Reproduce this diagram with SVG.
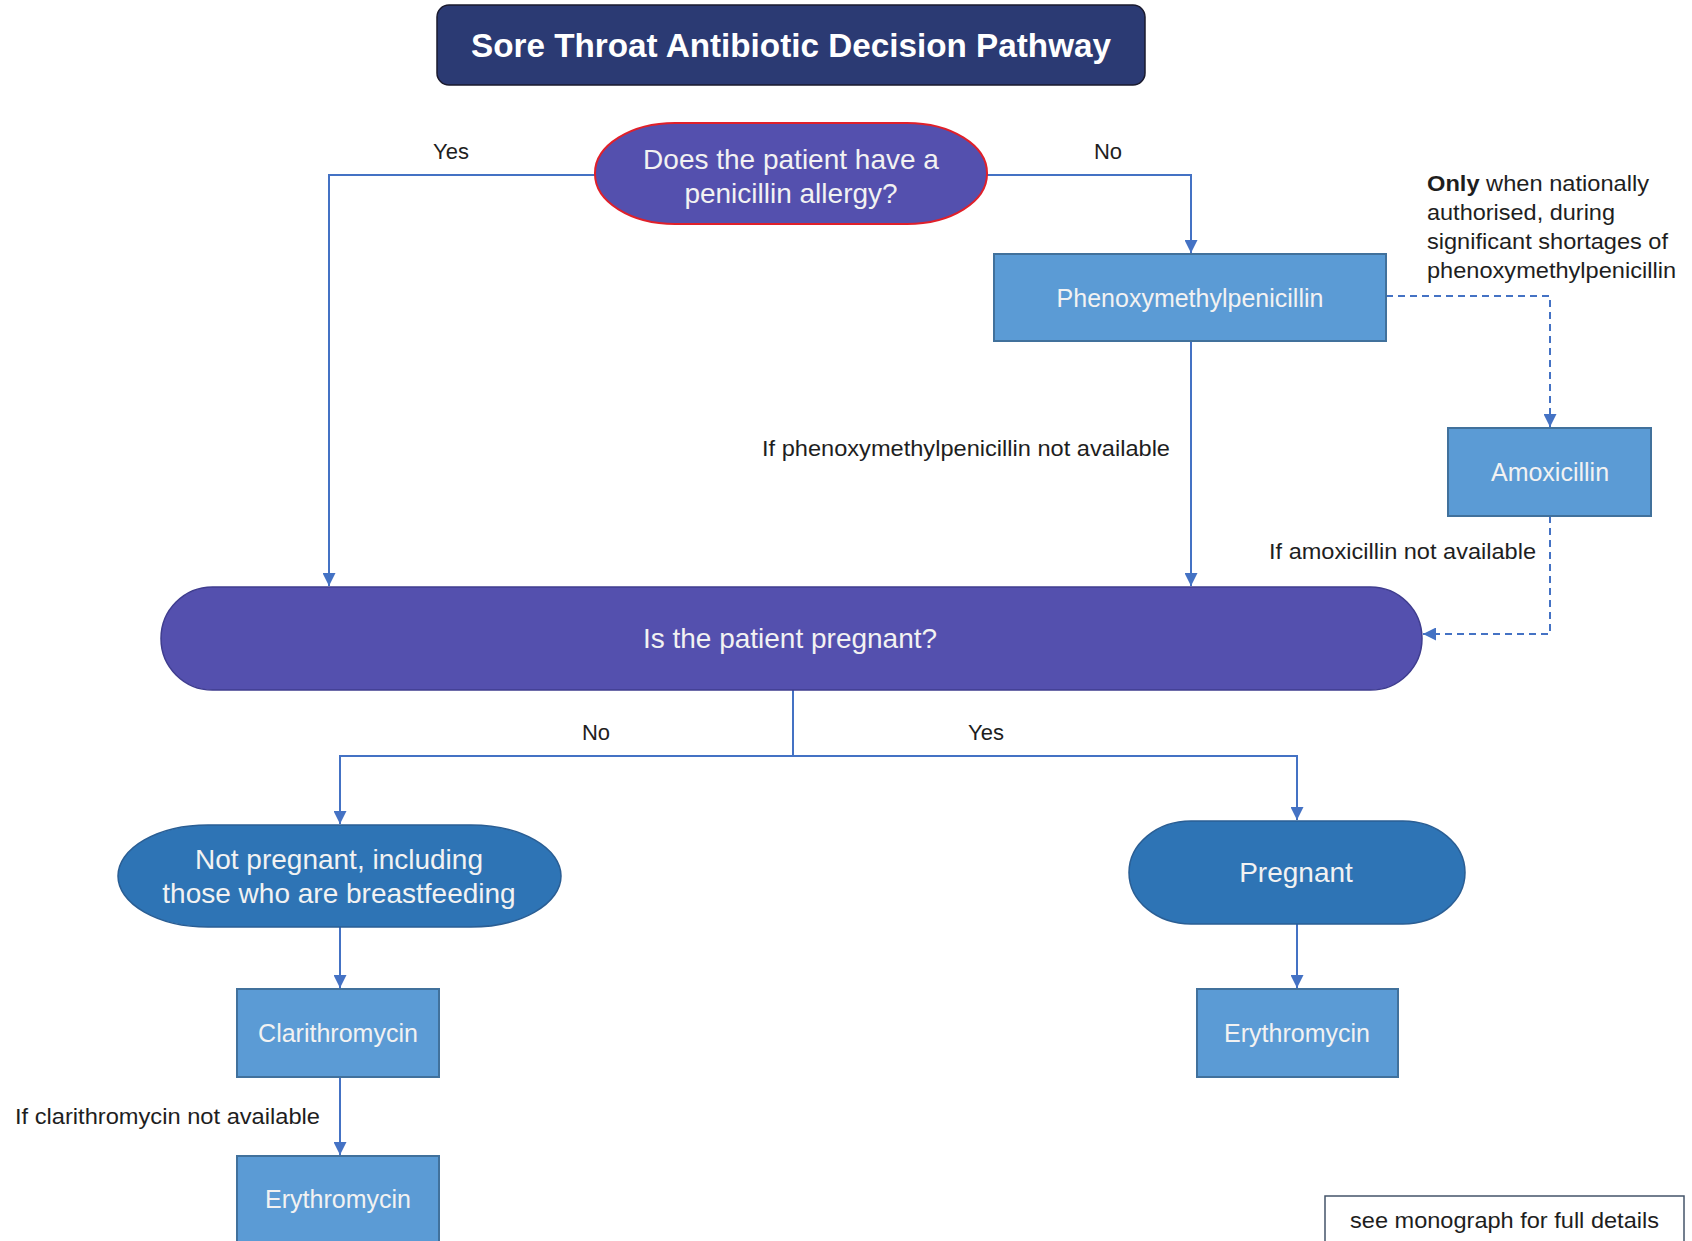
<svg xmlns="http://www.w3.org/2000/svg" width="1692" height="1241" viewBox="0 0 1692 1241">
<style>
.ln{fill:none;stroke:#4472C4;stroke-width:2}
.dash{stroke-dasharray:7 5}
.purple{fill:#5450AE;stroke:#3F3D8F;stroke-width:1.5}
.blue{fill:#2E74B5;stroke:#2A5E94;stroke-width:1.5}
.box{fill:#5B9BD5;stroke:#41719C;stroke-width:2}
.wt{fill:#F2F2F2;font-family:"Liberation Sans",Arial,sans-serif;text-anchor:middle}
.big{font-size:28px}
.med{font-size:25px}
.lbl{fill:#1E1E1E;font-family:"Liberation Sans",Arial,sans-serif;font-size:22px}
</style>
<defs>
<marker id="ah" markerUnits="userSpaceOnUse" markerWidth="13" markerHeight="13" viewBox="0 0 12 12" refX="12" refY="6" orient="auto">
<path d="M0,0 L12,6 L0,12 Z" fill="#4472C4"/>
</marker>
</defs>
<rect width="1692" height="1241" fill="#FFFFFF"/>

<g id="connectors">
<polyline class="ln" points="595,175 329,175 329,586" marker-end="url(#ah)"/>
<polyline class="ln" points="987,175 1191,175 1191,253" marker-end="url(#ah)"/>
<line class="ln" x1="1191" y1="341" x2="1191" y2="586" marker-end="url(#ah)"/>
<polyline class="ln dash" points="1386,296 1550,296 1550,427" marker-end="url(#ah)"/>
<polyline class="ln dash" points="1550,516 1550,634 1423,634" marker-end="url(#ah)"/>
<polyline class="ln" points="793,690 793,756 340,756 340,824" marker-end="url(#ah)"/>
<polyline class="ln" points="793,756 1297,756 1297,820" marker-end="url(#ah)"/>
<line class="ln" x1="340" y1="927" x2="340" y2="988" marker-end="url(#ah)"/>
<line class="ln" x1="340" y1="1077" x2="340" y2="1155" marker-end="url(#ah)"/>
<line class="ln" x1="1297" y1="924" x2="1297" y2="988" marker-end="url(#ah)"/>
<text class="lbl" x="451" y="159" text-anchor="middle">Yes</text>
<text class="lbl" x="1108" y="159" text-anchor="middle">No</text>
<text class="lbl" x="762" y="456" textLength="408" lengthAdjust="spacingAndGlyphs">If phenoxymethylpenicillin not available</text>
<text class="lbl" x="1269" y="559" textLength="267" lengthAdjust="spacingAndGlyphs">If amoxicillin not available</text>
<text class="lbl" x="596" y="740" text-anchor="middle">No</text>
<text class="lbl" x="986" y="740" text-anchor="middle">Yes</text>
<text class="lbl" x="15" y="1124" textLength="305" lengthAdjust="spacingAndGlyphs">If clarithromycin not available</text>
</g>

<g id="title">
<rect x="437" y="5" width="708" height="80" rx="12" fill="#2B3A73" stroke="#1A1A2E" stroke-width="1.5"/>
<text x="791" y="57" fill="#FFFFFF" font-family="'Liberation Sans',Arial,sans-serif" font-size="33" font-weight="bold" text-anchor="middle" textLength="640" lengthAdjust="spacingAndGlyphs">Sore Throat Antibiotic Decision Pathway</text>
</g>

<g id="allergy">
<rect x="595" y="123" width="392" height="101" rx="80" ry="50" fill="#5450AE" stroke="#E0202A" stroke-width="2"/>
<text class="wt big" x="791" y="169">Does the patient have a</text>
<text class="wt big" x="791" y="203">penicillin allergy?</text>
</g>

<g id="phenoxy">
<rect class="box" x="994" y="254" width="392" height="87"/>
<text class="wt med" x="1190" y="307">Phenoxymethylpenicillin</text>
</g>

<g id="note">
<text class="lbl" x="1427" y="191" textLength="222" lengthAdjust="spacingAndGlyphs"><tspan font-weight="bold">Only</tspan> when nationally</text>
<text class="lbl" x="1427" y="220" textLength="188" lengthAdjust="spacingAndGlyphs">authorised, during</text>
<text class="lbl" x="1427" y="249" textLength="241" lengthAdjust="spacingAndGlyphs">significant shortages of</text>
<text class="lbl" x="1427" y="278" textLength="249" lengthAdjust="spacingAndGlyphs">phenoxymethylpenicillin</text>
</g>

<g id="amoxicillin">
<rect class="box" x="1448" y="428" width="203" height="88"/>
<text class="wt med" x="1550" y="481">Amoxicillin</text>
</g>

<g id="pregnant-question">
<rect class="purple" x="161" y="587" width="1261" height="103" rx="51.5" ry="51.5"/>
<text class="wt big" x="790" y="648">Is the patient pregnant?</text>
</g>

<g id="not-pregnant">
<rect class="blue" x="118" y="825" width="443" height="102" rx="90" ry="51"/>
<text class="wt big" x="339" y="869">Not pregnant, including</text>
<text class="wt big" x="339" y="903">those who are breastfeeding</text>
</g>

<g id="pregnant">
<rect class="blue" x="1129" y="821" width="336" height="103" rx="62" ry="51.5"/>
<text class="wt big" x="1296" y="882">Pregnant</text>
</g>

<g id="clarithromycin">
<rect class="box" x="237" y="989" width="202" height="88"/>
<text class="wt med" x="338" y="1042">Clarithromycin</text>
</g>

<g id="erythromycin-left">
<rect class="box" x="237" y="1156" width="202" height="100"/>
<text class="wt med" x="338" y="1208">Erythromycin</text>
</g>

<g id="erythromycin-right">
<rect class="box" x="1197" y="989" width="201" height="88"/>
<text class="wt med" x="1297" y="1042">Erythromycin</text>
</g>

<g id="monograph">
<rect x="1325" y="1196" width="359" height="60" fill="#FFFFFF" stroke="#44546A" stroke-width="1.5"/>
<text class="lbl" x="1350" y="1228" textLength="309" lengthAdjust="spacingAndGlyphs">see monograph for full details</text>
</g>
</svg>
